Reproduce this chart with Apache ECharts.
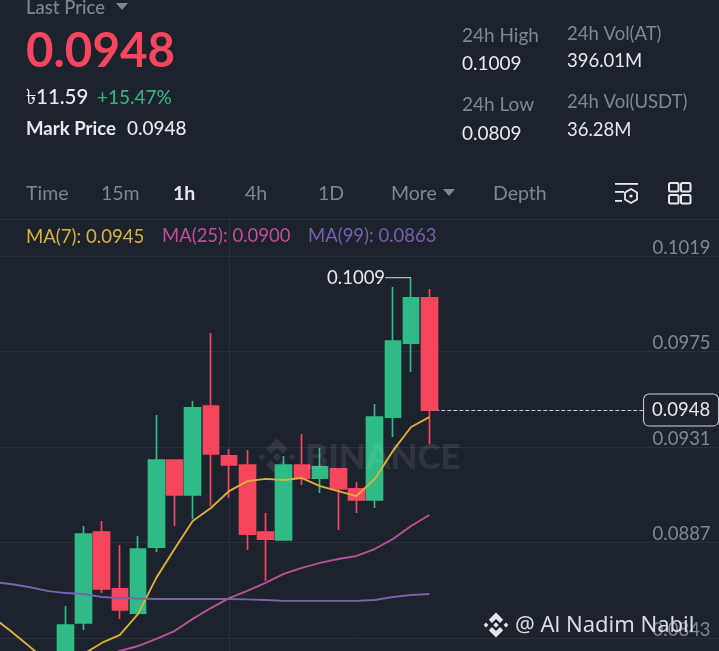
<!DOCTYPE html>
<html><head><meta charset="utf-8">
<style>html,body{margin:0;padding:0;background:#1d232d;overflow:hidden}#c{width:719px;height:651px}</style>
<script src="https://cdn.jsdelivr.net/npm/echarts@6/dist/echarts.min.js"></script>
</head><body><div id="c"></div>
<script>
const NA='-';
// each candle: [open, close, low, high]
const leadingBlanks=4, trailingBlanks=16;
const candles=[
[0.08301,0.08490,0.08232,0.08578],
[0.08499,0.08909,0.08467,0.08946],
[0.08918,0.08656,0.08637,0.08969],
[0.08656,0.08559,0.08518,0.08859],
[0.08545,0.08840,0.08545,0.08900],
[0.08849,0.09250,0.08826,0.09457],
[0.09250,0.09089,0.08946,0.09250],
[0.09089,0.09490,0.08978,0.09522],
[0.09499,0.09278,0.09038,0.09835],
[0.09269,0.09227,0.09075,0.09301],
[0.09227,0.08909,0.08836,0.09296],
[0.08918,0.08886,0.08693,0.09006],
[0.08882,0.09227,0.08882,0.09269],
[0.09227,0.09167,0.09135,0.09370],
[0.09167,0.09218,0.09098,0.09305],
[0.09209,0.09117,0.08928,0.09209],
[0.09117,0.09066,0.09006,0.09149],
[0.09066,0.09448,0.09029,0.09508],
[0.09448,0.09798,0.09356,0.10047],
[0.09789,0.09997,0.09656,0.10090],
[0.09997,0.09480,0.09324,0.10038]
];
const ma7=[0.08527,0.08462,0.08393,0.08324,0.08287,0.08356,0.08407,0.08444,0.08541,0.08707,0.08840,0.08969,0.09029,0.09107,0.09153,0.09163,0.09158,0.09167,0.09130,0.09107,0.09084,0.09163,0.09292,0.09402,0.09448];
const ma25=[NA,NA,NA,NA,NA,0.08324,0.08347,0.08370,0.08393,0.08426,0.08462,0.08518,0.08568,0.08614,0.08647,0.08684,0.08725,0.08753,0.08776,0.08794,0.08808,0.08840,0.08886,0.08946,0.08997];
const ma99=[0.08688,0.08679,0.08665,0.08647,0.08637,0.08633,0.08619,0.08614,0.08612,0.08610,0.08610,0.08610,0.08610,0.08610,0.08608,0.08605,0.08601,0.08601,0.08601,0.08601,0.08601,0.08605,0.08619,0.08628,0.08633];
const yTicks=[0.1019,0.0975,0.0931,0.0887,0.0843];
const lastPrice=0.0948, highPrice=0.1009;
const crossCategoryIndex=13, lastLineEndIndex=36, lastBoxIndex=38, highCandleIndex=23;
const tabs=[['Time',26],['15m',101],['1h',173],['4h',245],['1D',318],['More',391],['Depth',493]];

const candleData=[...Array(leadingBlanks).fill(NA),...candles,...Array(trailingBlanks).fill(NA)];
const categories=candleData.map((_,i)=>'C'+i);
const F='Lato, sans-serif';
const GREY='#7f8793', WHITE='#e6e8ec', GREEN='#2fbb85', RED='#f6465d', GRID='#2b313b';
function t(text,x,y,size,fill,weight,family){return {type:'text',silent:true,z:50,x:x,y:y,style:{text:text,fill:fill,font:(weight||'normal')+' '+size+'px '+(family||F),textVerticalAlign:'middle',textBaseline:'middle'}};}
function tri(x,y,w,h,fill){return {type:'polygon',silent:true,z:50,shape:{points:[[x,y],[x+w,y],[x+w/2,y+h]]},style:{fill:fill}};}
function diamonds(cx,cy,s,fill){
  const d=(x,y,r)=>({type:'polygon',silent:true,z:1,shape:{points:[[x,y-r],[x+r,y],[x,y+r],[x-r,y]]},style:{fill:fill}});
  return [d(cx,cy,s*0.28),d(cx-s,cy,s*0.24),d(cx+s,cy,s*0.24),
    {type:'polygon',silent:true,z:1,shape:{points:[[cx,cy-s*1.25],[cx+s*0.72,cy-s*0.53],[cx+s*0.4,cy-s*0.21],[cx,cy-s*0.6],[cx-s*0.4,cy-s*0.21],[cx-s*0.72,cy-s*0.53]]},style:{fill:fill}},
    {type:'polygon',silent:true,z:1,shape:{points:[[cx,cy+s*1.25],[cx+s*0.72,cy+s*0.53],[cx+s*0.4,cy+s*0.21],[cx,cy+s*0.6],[cx-s*0.4,cy+s*0.21],[cx-s*0.72,cy+s*0.53]]},style:{fill:fill}}];
}
const gfx=[
 {type:'rect',silent:true,z:40,shape:{x:0,y:0,width:719,height:219},style:{fill:'#1d232d'}},
 {type:'rect',silent:true,z:40,shape:{x:0,y:219,width:719,height:1},style:{fill:GRID}},
 t('Last Price',26,8,18.5,GREY,'500'),tri(116,3,12,7,GREY),
 t('0.0948',26,52,47.5,RED,'700'),
 t('৳11.59',26,97.5,20.5,WHITE,'500',"Lato, 'DejaVu Sans', 'Noto Sans', sans-serif"),
 t('+15.47%',97,97.5,19,'#35ae80','500'),
 t('Mark Price',26,128.5,18.6,WHITE,'700'),t('0.0948',127,128.5,19,WHITE,'500'),
 t('24h High',462,36,19,GREY),t('0.1009',462,63.5,19,WHITE),
 t('24h Low',462,105,19,GREY),t('0.0809',462,133.5,19,WHITE),
 t('24h Vol(AT)',567,34,18.5,GREY),t('396.01M',567,61,18.5,WHITE),
 t('24h Vol(USDT)',567,102,18.5,GREY),t('36.28M',567,130,18.5,WHITE),
 ...tabs.map(a=>t(a[0],a[1],193.5,19.5,a[0]==='1h'?WHITE:GREY,a[0]==='1h'?'700':'normal')),
 tri(443,189,12,7,GREY),
 // settings icon
 {type:'rect',silent:true,z:50,shape:{x:615,y:183,width:23,height:1.8},style:{fill:WHITE}},
 {type:'rect',silent:true,z:50,shape:{x:615,y:191,width:9,height:1.8},style:{fill:WHITE}},
 {type:'rect',silent:true,z:50,shape:{x:615,y:200,width:7,height:1.8},style:{fill:WHITE}},
 {type:'polygon',silent:true,z:50,shape:{points:[[631,189],[637,192.5],[637,199.5],[631,203],[625,199.5],[625,192.5]]},style:{fill:'none',stroke:WHITE,lineWidth:1.8}},
 {type:'circle',silent:true,z:50,shape:{cx:631,cy:196,r:1.6},style:{fill:WHITE}},
 ...[[669,183],[681,183],[669,195],[681,195]].map(p=>({type:'rect',silent:true,z:50,shape:{x:p[0],y:p[1],width:9.5,height:8.5,r:1.5},style:{fill:'none',stroke:WHITE,lineWidth:2}})),
 t('MA(7): 0.0945',26,236.5,18.6,'#dcb23e'),t('MA(25): 0.0900',162,236.5,18.5,'#bd4f9b'),t('MA(99): 0.0863',308,236.5,18.5,'#7a5fb0'),
 ...diamonds(277,457,15,'rgba(255,255,255,0.09)'),
 t('BINANCE',305,458,35,'rgba(255,255,255,0.085)','900'),
 ...diamonds(496,625,10,'#e4e6ea').map(o=>Object.assign(o,{z:60})),
 Object.assign(t('@ Al Nadim Nabil',515,626,22,'#d9dce0','normal',"'Noto Sans', sans-serif"),{z:60})
];
const lineS=(name,data,color)=>({name,type:'line',data,symbol:'none',z:5,lineStyle:{color,width:1.9},itemStyle:{color},silent:true,connectNulls:false});
const chart=echarts.init(document.getElementById('c'),null,{renderer:'canvas'});
const band=18.2, N=categories.length, gridLeft=-16.6;
chart.setOption({
 backgroundColor:'#1d232d',animation:false,
 grid:{left:gridLeft,top:220,width:band*N,height:432,containLabel:false,outerBoundsMode:'none'},
 xAxis:{type:'category',data:categories,boundaryGap:true,axisLine:{show:false},axisTick:{show:false},axisLabel:{show:false},splitLine:{show:false}},
 yAxis:{type:'value',position:'right',scale:true,min:0.083655,max:0.103559,
   axisLine:{show:false},
   axisTick:{show:false,customValues:yTicks},
   splitLine:{show:true,lineStyle:{color:GRID,width:1}},
   axisLabel:{inside:true,customValues:yTicks,margin:19,color:GREY,fontSize:18.5,fontFamily:F,verticalAlign:'bottom',lineHeight:16,formatter:v=>v.toFixed(4)}},
 series:[
  {type:'candlestick',name:'Price',data:candleData,barWidth:16,z:3,clip:true,
   itemStyle:{color:GREEN,color0:RED,borderColor:GREEN,borderColor0:RED,borderWidth:1.7},
   markLine:{silent:true,symbol:'none',z:1,label:{show:false},data:[
     {xAxis:categories[crossCategoryIndex],lineStyle:{color:GRID,width:1,type:'solid'}},
     [{coord:[leadingBlanks+candles.length-1,lastPrice],lineStyle:{color:'#c8ccd2',width:1,type:'dashed'}},{coord:[lastLineEndIndex,lastPrice]}]
   ]},
   markPoint:{silent:true,data:[
     {coord:[highCandleIndex,highPrice],symbol:'rect',symbolSize:[26,1],symbolOffset:[-13,0],itemStyle:{color:'#d8dbe0'},
      label:{show:true,position:'left',distance:0,color:WHITE,fontSize:18.5,fontFamily:F,formatter:()=>highPrice.toFixed(4)}},
     {coord:[lastBoxIndex,lastPrice],symbol:'rect',symbolSize:[1,1],itemStyle:{color:'rgba(0,0,0,0)'},
      label:{show:true,position:'inside',offset:[-3,0],color:WHITE,fontSize:18.5,fontFamily:F,backgroundColor:'#1d232d',borderColor:'#d4d7dc',borderWidth:1,borderRadius:5,padding:[6,8,6,8],formatter:()=>lastPrice.toFixed(4)}}
   ]}
  },
  lineS('MA7',ma7,'#dcae3a'),lineS('MA25',ma25,'#b9509c'),lineS('MA99',ma99,'#7c62ad')
 ],
 graphic:{elements:gfx}
});
</script></body></html>
